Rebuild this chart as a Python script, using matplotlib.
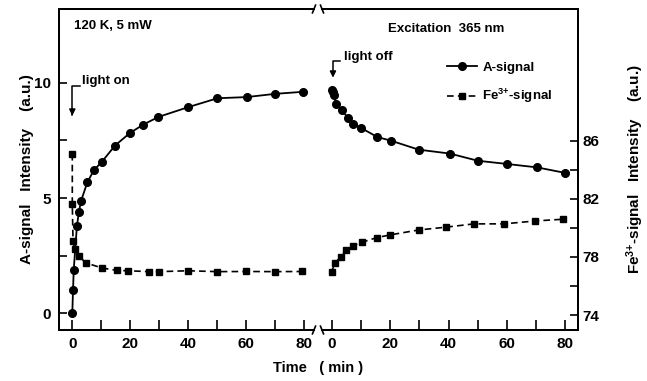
import matplotlib
matplotlib.use('Agg')
import matplotlib.pyplot as plt
from matplotlib.lines import Line2D

plt.rcParams['font.family'] = ['Liberation Sans', 'DejaVu Sans']
plt.rcParams['font.weight'] = 'bold'
plt.rcParams['axes.labelweight'] = 'bold'
plt.rcParams['mathtext.fontset'] = 'custom'
plt.rcParams['mathtext.rm'] = 'Liberation Sans:bold'
plt.rcParams['mathtext.it'] = 'Liberation Sans:bold'
plt.rcParams['mathtext.bf'] = 'Liberation Sans:bold'

# light on (left panel)
t_on_a = [0, 0.25, 0.5, 1.6, 2.3, 3.0, 5.2, 7.4, 10.2, 14.8, 20, 24.6, 29.8, 40, 50.2, 60.3, 70.1, 79.9]
a_on = [0, 1.0, 1.9, 3.8, 4.4, 4.87, 5.68, 6.2, 6.57, 7.28, 7.83, 8.19, 8.52, 8.94, 9.33, 9.38, 9.52, 9.61]
t_on_fe = [0, 0, 0.25, 0.8, 2.3, 4.6, 10.3, 15.6, 19.4, 26.5, 30, 40.1, 50.2, 60, 70.1, 79.6]
fe_on = [85.1, 81.63, 79.13, 78.55, 78.07, 77.6, 77.24, 77.07, 77.05, 76.99, 76.99, 77.05, 76.99, 77.0, 76.99, 77.0]

# light off (right panel)
t_off_a = [0, 0.5, 0.8, 1.5, 3.4, 5.7, 7.4, 10.1, 15.6, 20.3, 29.8, 40.5, 50, 60, 70.4, 80]
a_off = [9.68, 9.62, 9.46, 9.09, 8.8, 8.48, 8.22, 8.04, 7.65, 7.49, 7.1, 6.93, 6.62, 6.48, 6.33, 6.09]
t_off_fe = [0, 1.1, 3.1, 4.9, 7.2, 10.3, 15.4, 20, 29.8, 39, 48.7, 59, 69.6, 79.3]
fe_off = [76.99, 77.57, 78.02, 78.48, 78.78, 79.01, 79.33, 79.52, 79.86, 80.05, 80.28, 80.28, 80.48, 80.6]

a_lim = (-0.72, 13.2)
fe_lim = (72.97, 95.08)

fig = plt.figure(figsize=(6.47, 3.81), dpi=100)
W, H = 647, 381
ax1 = fig.add_axes([59 / W, 1 - 330 / H, (314 - 59) / W, 321 / H])
ax2 = fig.add_axes([322 / W, 1 - 330 / H, (578 - 322) / W, 321 / H])
ax1t = ax1.twinx()
ax2t = ax2.twinx()

ax1.set_xlim(-4.6, 83.6)
ax2.set_xlim(-3.3, 84.3)
for a in (ax1, ax2):
    a.set_ylim(*a_lim)
for a in (ax1t, ax2t):
    a.set_ylim(*fe_lim)

ax1.plot(t_on_a, a_on, '-o', color='black', lw=1.3, ms=5.5)
ax1t.plot(t_on_fe, fe_on, '--s', color='black', lw=1.2, ms=5, dashes=(4, 2.5))
ax2.plot(t_off_a, a_off, '-o', color='black', lw=1.3, ms=5.5)
ax2t.plot(t_off_fe, fe_off, '--s', color='black', lw=1.2, ms=5, dashes=(4, 2.5))

# frame
ax1.spines['right'].set_visible(False)
ax1t.spines['right'].set_visible(False)
ax2.spines['left'].set_visible(False)
ax2t.spines['left'].set_visible(False)
for a in (ax1, ax2, ax1t, ax2t):
    for s in a.spines.values():
        s.set_linewidth(1.4)

for a in (ax1, ax2):
    a.set_xticks([0, 20, 40, 60, 80])
    a.set_xticks([10, 30, 50, 70], minor=True)
    a.tick_params(axis='x', which='both', direction='in', top=False, labelsize=11,
                  width=1.2, length=7, pad=5)

ax1.set_yticks([0, 5, 10])
ax1.set_yticks([2.5, 7.5], minor=True)
ax1.tick_params(axis='y', which='both', direction='in', length=6, width=1.2, labelsize=11, pad=6)
ax1t.set_yticks([])
ax2.set_yticks([])
ax2.tick_params(axis='y', which='both', left=False, right=False)
ax2t.set_yticks([74, 78, 82, 86])
ax2t.set_yticks([76, 80, 84], minor=True)
ax2t.tick_params(axis='y', which='both', direction='in', length=6, width=1.2, labelsize=11, pad=3)

# break marks
for a, sign in ((ax1, 1), (ax2, -1)):
    xs = 1.0 if sign > 0 else 0.0
    for yb in (0.0, 1.0):
        a.plot([xs - 0.006 * sign, xs + 0.006 * sign], [yb - 0.012, yb + 0.012],
               transform=a.transAxes, color='black', lw=1.2, clip_on=False)

# labels
ax1.set_ylabel('A-signal   Intensity    (a.u.)', fontsize=11, labelpad=0)
ax2t.set_ylabel('Fe$^{3{+}}$-signal   Intensity    (a.u.)', fontsize=11, labelpad=18)
fig.text(318 / W, 1 - 368 / H, 'Time   ( min )', ha='center', va='center', fontsize=10.5)

ax1.text(0.6, 12.45, '120 K, 5 mW', fontsize=9.5, va='center', ha='left')
ax2.text(19.3, 12.32, 'Excitation  365 nm', fontsize=9.5, va='center', ha='left')

# light on/off arrows
ax1.plot([0, 0, 2.7], [8.6, 9.88, 9.88], color='black', lw=1.1)
ax1.annotate('', xy=(0, 8.45), xytext=(0, 9.0),
             arrowprops=dict(arrowstyle='-|>', color='black', lw=1.1, mutation_scale=9))
ax1.text(3.2, 10.07, 'light on', fontsize=9.5, va='center', ha='left')
ax2.plot([0.45, 0.45, 2.9], [10.4, 10.96, 10.96], color='black', lw=1.1)
ax2.annotate('', xy=(0.45, 10.1), xytext=(0.45, 10.5),
             arrowprops=dict(arrowstyle='-|>', color='black', lw=1.1, mutation_scale=9))
ax2.text(4.2, 11.14, 'light off', fontsize=9.5, va='center', ha='left')

handles = [Line2D([], [], color='black', marker='o', ms=5.5, lw=1.3),
           Line2D([], [], color='black', marker='s', ms=5, lw=1.2, ls='--', dashes=(4, 2.5))]
fig.legend(handles, ['A-signal', 'Fe$^{3{+}}$-signal'], loc='upper left',
           bbox_to_anchor=(440 / W, 1 - 55 / H), frameon=False, fontsize=9.5,
           handlelength=2.3, handletextpad=0.4, labelspacing=1.0, borderpad=0)

fig.savefig('out.png', dpi=100)
